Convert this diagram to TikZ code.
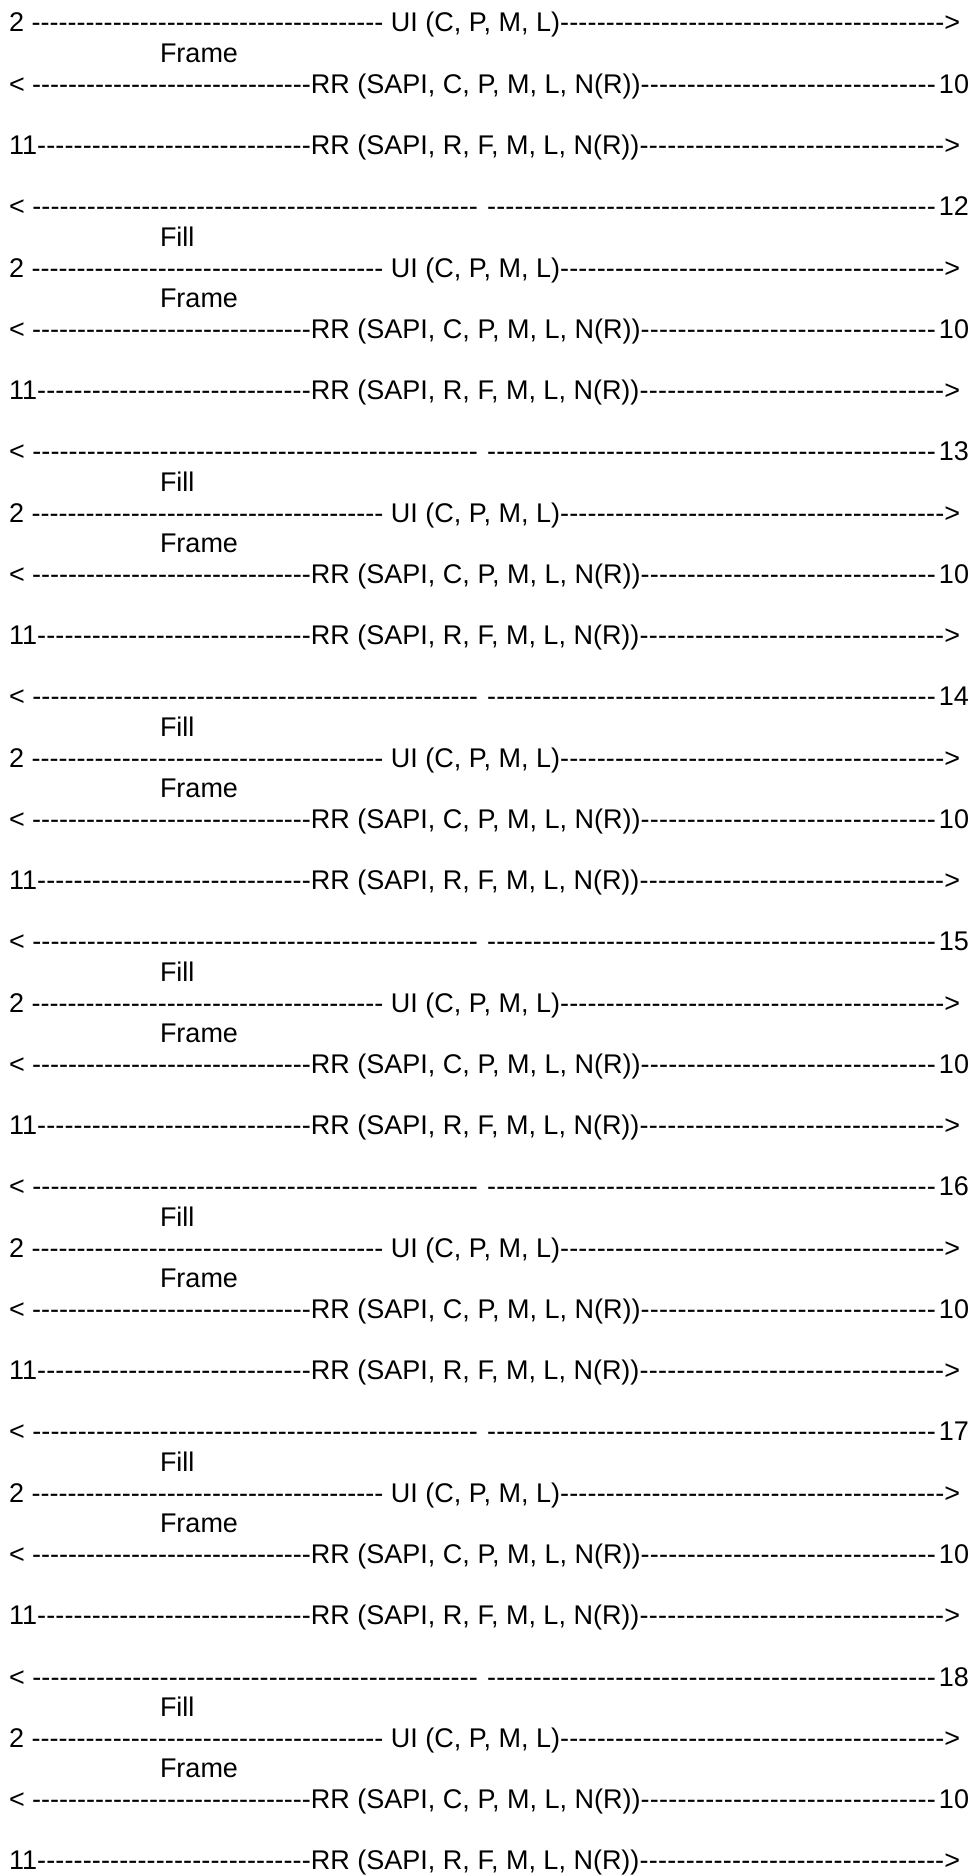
\documentclass[tikz,border=0pt]{standalone}
\usepackage{fontspec}
\setmainfont{Liberation Sans}
\newdimen\px \px=0.75pt
\newcommand\dfill[2]{\hbox to #1\px{#2\xleaders\hbox{-}\hfill}}
\tikzset{
  ln/.style={anchor=base west, inner sep=0pt, outer sep=0pt, font=\fontsize{20.25}{24}\selectfont},
}
\begin{document}
\begin{tikzpicture}[x=0.75pt,y=-0.75pt]
\fill[white] (0,0) rectangle (972,1876);
\useasboundingbox (0,0) rectangle (972,1876);
\foreach \k in {0,...,7}{
  \pgfmathsetmacro\b{32+30.63*8*\k}
  \node[ln] (ui\k) at (9,\b) {\dfill{374.5}{2\space}\dfill{561}{\space UI (C, P, M, L)}>};
  \node[ln] (fr\k) at (160,\b+30.63) {Frame};
  \node[ln] (rc\k) at (9,\b+61.26) {\dfill{302}{<\space}\dfill{625}{RR (SAPI, C, P, M, L, N(R))}\hskip3\px 10};
  \node[ln] (rf\k) at (9,\b+122.52) {\dfill{302}{11}\dfill{633.5}{RR (SAPI, R, F, M, L, N(R))}>};
  \ifnum\k<7
    \pgfmathtruncatemacro\n{12+\k}
    \node[ln] (sp\k) at (9,\b+183.78) {\dfill{469}{<\space}\hbox to 9\px{}\dfill{449}{}\hskip3\px\n};
    \node[ln] (fl\k) at (160,\b+214.41) {Fill};
  \fi
}
\end{tikzpicture}
\end{document}
